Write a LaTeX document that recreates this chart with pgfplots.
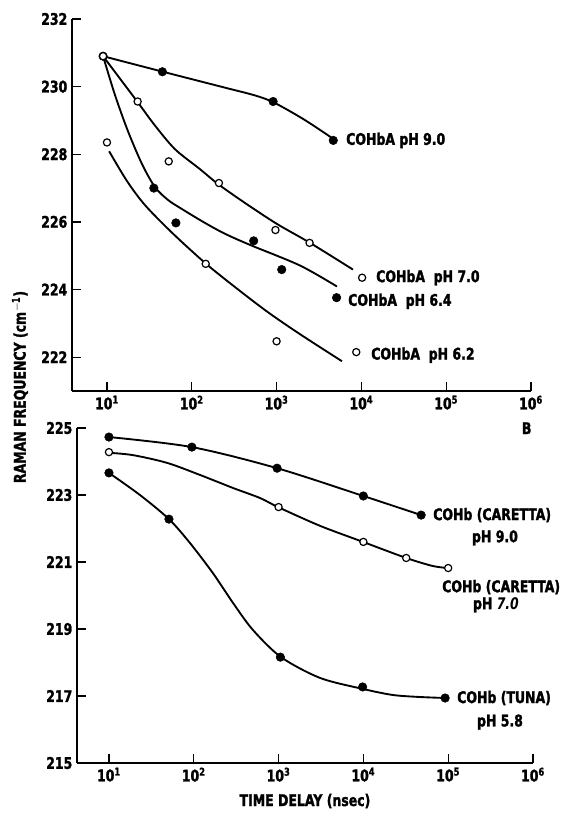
\documentclass[border=0pt]{standalone}
\usepackage{pgfplots}
\pgfplotsset{compat=1.18}
\usepackage{fontspec}
\setmainfont{DejaVu Sans}[FakeStretch=0.78, BoldFeatures={FakeBold=1.6}]
\newcommand{\lab}{\fontsize{12}{14}\selectfont\bfseries}

\pgfplotsset{
  ramanpanel/.style={
    scale only axis,
    anchor=south west,
    xmax=1e6,
    axis x line*=bottom,
    axis y line*=left,
    axis line style={-, line width=1pt},
    tick align=inside,
    major tick length=7pt,
    tick style={line width=1pt, black},
    xminorticks=false,
    xtick={10,100,1000,10000,100000,1000000},
    xticklabels={10\textsuperscript{1},10\textsuperscript{2},10\textsuperscript{3},10\textsuperscript{4},10\textsuperscript{5},10\textsuperscript{6}},
    /pgf/number format/assume math mode=true,
    ticklabel style={font=\lab},
    clip=false,
  },
  fitcurve/.style={line width=1.4pt, smooth, tension=0.5, black, mark=none},
  fullpt/.style={only marks, mark=*, mark size=3.2pt, black},
  openpt/.style={only marks, mark=*, mark size=2.7pt, mark options={fill=white, draw=black, line width=0.9pt}},
}

\begin{document}
\begin{tikzpicture}
\path (0,0) rectangle (419.25pt,613.5pt);

% upper panel
\begin{axis}[xmode=log, ramanpanel, name=top, at={(54pt,320.25pt)},
    width=344.25pt, height=279pt,
    xmin=3.87, ymin=221, ymax=232,
    ytick={222,224,...,232}]
% COHbA pH 9.0
\addplot[fitcurve] coordinates {(9,230.9) (45.7,230.44) (246,229.97) (556,229.74) (931,229.53) (2100,229.03) (4760,228.44)};
\addplot[fullpt] coordinates {(9,230.9) (45,230.44) (910,229.56) (4660,228.41)};
% COHbA pH 7.0
\addplot[fitcurve] coordinates {(9,230.9) (14.2,230.24) (23.2,229.53) (36.8,228.85) (63.4,228.15) (125,227.56) (204,227.12) (424,226.56) (1010,225.94) (2480,225.38) (7960,224.59)};
\addplot[openpt] coordinates {(9,230.9) (23,229.56) (53.5,227.79) (209,227.15) (970,225.76) (2450,225.38) (10200,224.35)};
% COHbA pH 6.4
\addplot[fitcurve] coordinates {(9,230.9) (12.4,229.76) (17.7,228.68) (25.9,227.71) (36.8,227.03) (52.4,226.65) (76.6,226.38) (143,225.97) (246,225.65) (486,225.32) (1890,224.71) (5150,224.09)};
\addplot[fullpt] coordinates {(35.7,227.0) (65,225.97) (537,225.44) (1150,224.59) (5100,223.76)};
% COHbA pH 6.2
\addplot[fitcurve] coordinates {(10.6,228.09) (17.2,227.21) (28,226.5) (58.5,225.68) (143,224.79) (306,224.12) (771,223.35) (1890,222.68) (5900,221.88)};
\addplot[openpt] coordinates {(10,228.35) (146,224.76) (1000,222.47) (8700,222.15)};

\node[anchor=west, font=\lab, inner sep=0pt] at (axis cs:6580,228.41) {COHbA pH 9.0};
\node[anchor=west, font=\lab, inner sep=0pt] at (axis cs:14860,224.35) {COHbA\ \ pH 7.0};
\node[anchor=west, font=\lab, inner sep=0pt] at (axis cs:6950,223.65) {COHbA\ \ pH 6.4};
\node[anchor=west, font=\lab, inner sep=0pt] at (axis cs:12980,222.06) {COHbA\ \ pH 6.2};
\node[font=\lab, inner sep=0pt] at (axis cs:8.9e5,219.9) {B};
\end{axis}

% lower panel
\begin{axis}[xmode=log, ramanpanel, name=bot, at={(57.75pt,41.25pt)},
    width=342pt, height=251.25pt,
    xmin=4.2, ymin=215, ymax=225,
    ytick={215,217,...,225}]
% COHb (CARETTA) pH 9.0
\addplot[fitcurve] coordinates {(10,224.73) (95,224.43) (960,223.8) (10000,222.97) (48000,222.40)};
\addplot[fullpt] coordinates {(10,224.73) (95,224.43) (960,223.8) (10000,222.97) (48000,222.40)};
% COHb (CARETTA) pH 7.0
\addplot[fitcurve] coordinates {(10,224.26) (19.2,224.19) (48.3,223.96) (118,223.6) (290,223.21) (604,222.91) (985,222.64) (3080,222.08) (9900,221.6) (32000,221.12) (66000,220.88) (100000,220.82)};
\addplot[openpt] coordinates {(10,224.28) (1000,222.64) (10000,221.6) (32000,221.12) (100000,220.82)};
% COHb (TUNA) pH 5.8
\addplot[fitcurve] coordinates {(10,223.66) (23.2,223.0) (51,222.28) (90,221.57) (168,220.67) (290,219.78) (499,218.97) (1070,218.16) (3080,217.54) (9900,217.21) (22300,217.03) (46400,216.97) (94000,216.94)};
\addplot[fullpt] coordinates {(10,223.66) (51,222.28) (1050,218.16) (9800,217.27) (92000,216.94)};

\node[anchor=west, font=\lab, inner sep=0pt] at (axis cs:66200,222.40) {COHb (CARETTA)};
\node[font=\lab, inner sep=0pt] at (axis cs:356000,221.72) {pH 9.0};
\node[anchor=west, font=\lab, inner sep=0pt] at (axis cs:84500,220.25) {COHb (CARETTA)};
\node[font=\lab, inner sep=0pt] at (axis cs:366000,219.72) {pH \textit{7.0}};
\node[anchor=west, font=\lab, inner sep=0pt] at (axis cs:127000,216.94) {COHb (TUNA)};
\node[font=\lab, inner sep=0pt] at (axis cs:408000,216.22) {pH 5.8};
\end{axis}

\node[font=\lab] at (228.75pt,12.75pt) {TIME DELAY (nsec)};
\node[font=\lab, rotate=90] at (15pt,323.25pt) {RAMAN FREQUENCY (cm\textsuperscript{$-$1})};
\end{tikzpicture}
\end{document}
